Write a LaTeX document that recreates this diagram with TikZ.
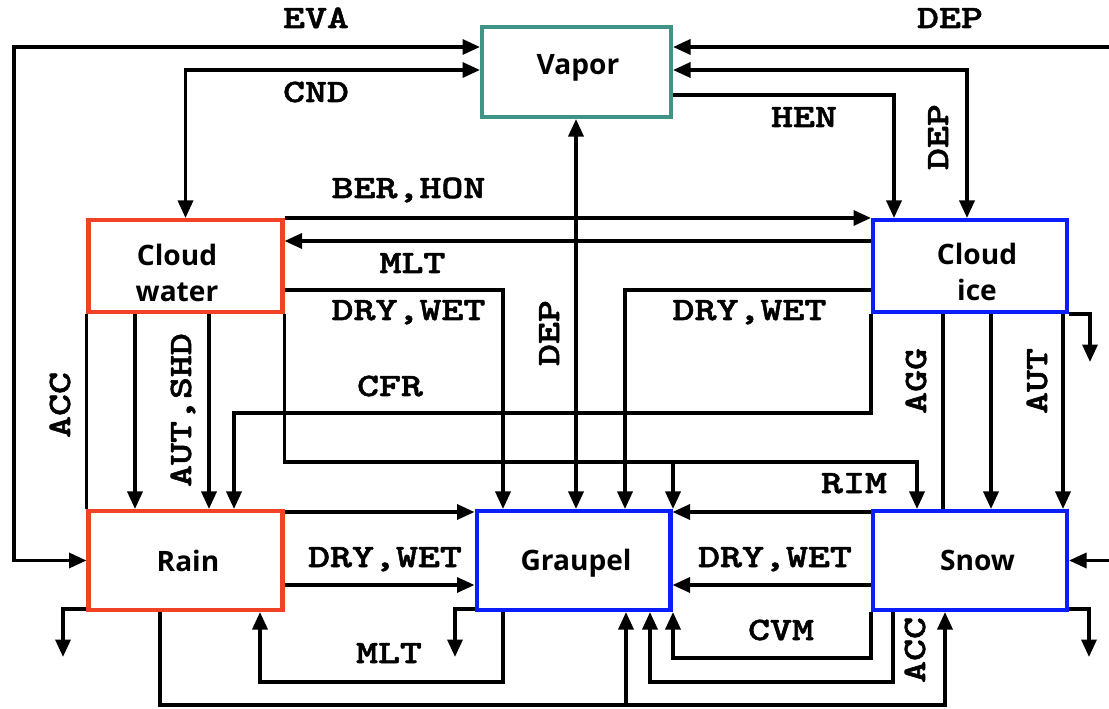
\documentclass[tikz,border=0pt]{standalone}
\usepackage{fontspec}
\setsansfont{Open Sans}
\newfontfamily\procfont{lmmonolt10-bold.otf}[FakeStretch=1.28, FakeBold=1.6]
\usetikzlibrary{arrows.meta}
\definecolor{vaporteal}{RGB}{64,148,134}
\definecolor{liqred}{RGB}{240,66,36}
\definecolor{iceblue}{RGB}{10,30,250}
\begin{document}
\begin{tikzpicture}[x=0.02cm, y=-0.02cm, line width=1.9pt,
    >={Triangle[length=0.35cm,width=0.3cm]},
    hydbox/.style={draw, line width=2.3pt, minimum width=3.88cm, minimum height=1.84cm, inner sep=0pt},
    boxtext/.style={anchor=base, inner sep=0pt, align=center, font=\sffamily\bfseries\fontsize{16}{21}\selectfont},
    proc/.style={anchor=base, inner sep=0pt, font=\procfont\fontsize{18.6}{22}\selectfont}]
    \useasboundingbox (0,0) rectangle (1109,709);
    \clip (0,0) rectangle (1109,709);

    \node[hydbox, draw=vaporteal, minimum width=3.78cm, minimum height=1.8cm] (vapor) at (576.5,72) {};
    \node[hydbox, draw=liqred] (cwater) at (185.5,266) {};
    \node[hydbox, draw=iceblue] (cice) at (970,266) {};
    \node[hydbox, draw=liqred, minimum height=1.98cm] (rain) at (185.5,560.5) {};
    \node[hydbox, draw=iceblue, minimum height=1.98cm] (graupel) at (573.5,560.5) {};
    \node[hydbox, draw=iceblue, minimum height=1.98cm] (snow) at (970,560.5) {};

    \node[boxtext] (vaportxt) at (578,75) {Vapor};
    \node[boxtext, anchor=center] (cwatertxt) at (177,273) {Cloud\\water};
    \node[boxtext, anchor=center] (cicetxt) at (977,272) {Cloud\\ice};
    \node[boxtext] (raintxt) at (188,571) {Rain};
    \node[boxtext] (graupeltxt) at (576,570) {Graupel};
    \node[boxtext] (snowtxt) at (977.5,570) {Snow};

    \coordinate (deptop) at (1115,47);
    \coordinate (depsnow) at (1115,560.5);
    \coordinate (rainsed) at (63,657);
    \coordinate (graupsed) at (455,657);
    \coordinate (snowsed) at (1089,657);
    \coordinate (icesed) at (1090,362);

    \draw[<->] (rain.west) -| (14,47) -- (vapor.west |- 0,47);
    \draw[<->] (cwater.north) |- (vapor.west |- 0,70);
    \draw[->] (deptop) -- (vapor.east |- deptop);
    \draw[<->] (vapor.east |- 0,70) -| (cice.north -| 967,0);
    \draw[->] (vapor.east |- 0,95) -| (cice.north -| 894,0);
    \draw[<->] (vapor.south -| 576,0) -- (graupel.north -| 576,0);
    \draw[->] (cwater.north east) -- (cice.north west);
    \draw[->] (cice.west |- 0,241) -- (cwater.east |- 0,241);
    \draw[->] (cwater.east |- 0,290) -| (graupel.north -| 503,0);
    \draw[->] (cice.west |- 0,290) -| (graupel.north -| 625,0);
    \draw[->] (cice.south west) |- (234,413) -- (rain.north -| 234,0);
    \draw[->] (cwater.south east) |- (917,462) -- (snow.north -| 917,0);
    \draw[->] (673,462) -- (graupel.north -| 673,0);
    \draw (cwater.south west) -- (rain.north west);
    \foreach \x in {135,209} {
        \draw[->] (cwater.south -| \x,0) -- (rain.north -| \x,0);
    }
    \foreach \y in {512,585} {
        \draw[->] (rain.east |- 0,\y) -- (graupel.west |- 0,\y);
        \draw[->] (snow.west |- 0,\y) -- (graupel.east |- 0,\y);
    }
    \draw (cice.south -| 943,0) -- (snow.north -| 943,0);
    \foreach \x in {991,1063} {
        \draw[->] (cice.south -| \x,0) -- (snow.north -| \x,0);
    }
    \draw[->] (depsnow) -- (snow.east);
    \draw[->] (snow.south west) |- (673,658) -- (graupel.south -| 673,0);
    \draw[->] (snow.south -| 893,0) |- (650,682) -- (graupel.south -| 650,0);
    \draw[->] (rain.south -| 160,0) |- (945,705) -- (snow.south -| 945,0);
    \draw[->] (626,705) -- (graupel.south -| 626,0);
    \draw[->] (graupel.south -| 503,0) |- (260,682) -- (rain.south -| 260,0);
    \draw[->] (rain.west |- 0,609) -| (rainsed);
    \draw[->] (graupel.west |- 0,609) -| (graupsed);
    \draw[->] (snow.east |- 0,609) -| (snowsed);
    \draw[->] (cice.east |- 0,314) -| (icesed);

    \node[proc] (eva) at (316,28) {EVA};
    \node[proc] (cnd) at (316,102) {CND};
    \node[proc] (deptopl) at (950,28) {DEP};
    \node[proc] (hen) at (804,127) {HEN};
    \node[proc, rotate=90] (depice) at (948,137) {DEP};
    \node[proc, rotate=90] (depgrp) at (559,333) {DEP};
    \node[proc] (berhon) at (408.5,198) {BER,HON};
    \node[proc] (mltice) at (412.5,273) {MLT};
    \node[proc] (drywcw) at (408.5,320) {DRY,WET};
    \node[proc] (drywci) at (749.5,320) {DRY,WET};
    \node[proc] (cfr) at (390,396) {CFR};
    \node[proc, rotate=90] (accrain) at (70,405) {ACC};
    \node[proc, rotate=90] (autshd) at (191,410) {AUT,SHD};
    \node[proc, rotate=90] (agg) at (926,381) {AGG};
    \node[proc, rotate=90] (autsnow) at (1047,381) {AUT};
    \node[proc] (rim) at (854,493) {RIM};
    \node[proc] (drywrn) at (385,567) {DRY,WET};
    \node[proc] (drywsn) at (775,567) {DRY,WET};
    \node[proc] (mltgrp) at (389,663) {MLT};
    \node[proc] (cvm) at (781,640) {CVM};
    \node[proc, rotate=90] (accsnow) at (925,650) {ACC};
\end{tikzpicture}
\end{document}
